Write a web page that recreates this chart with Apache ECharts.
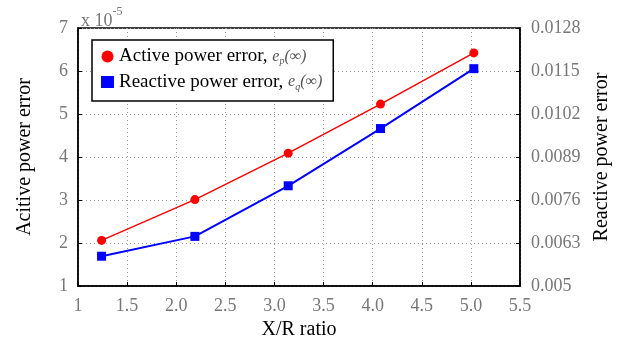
<!DOCTYPE html>
<html>
<head>
<meta charset="utf-8">
<script src="https://cdn.jsdelivr.net/npm/echarts@6/dist/echarts.min.js"></script>
<style>
  html, body { margin: 0; padding: 0; background: #fff; }
  #chart { width: 625px; height: 345px; }
</style>
</head>
<body>
<div id="chart"></div>
<script>
	// X/R ratio of each case
	var xrRatio = [1.24, 2.19, 3.14, 4.08, 5.03];
	// active power error, in units of 1e-5
	var activeErr = [2.06, 3.01, 4.09, 5.23, 6.42];
	// reactive power error
	var reactiveErr = [0.00590, 0.00650, 0.00803, 0.00976, 0.01157];
	var rightTicks = [0.005, 0.0063, 0.0076, 0.0089, 0.0102, 0.0115, 0.0128];

	var font = 'Liberation Serif';
	var myChart = echarts.init(document.getElementById('chart'));
	myChart.setOption({
		animation: false,
		textStyle: { fontFamily: font },
		title: {
			text: '{a|x 10}{b|-5}',
			left: 76,
			top: 1,
			textStyle: {
				fontWeight: 'normal',
				rich: {
					a: { fontFamily: font, fontSize: 18, color: '#777', verticalAlign: 'bottom', lineHeight: 24 },
					b: { fontFamily: font, fontSize: 12, color: '#777', verticalAlign: 'top', lineHeight: 24 }
				}
			}
		},
		grid: {
			left: 78, right: 105, top: 28, bottom: 58,
			show: true, borderColor: '#000', borderWidth: 1.5, backgroundColor: 'transparent'
		},
		legend: {
			orient: 'vertical',
			left: 92, top: 40,
			padding: [7, 11, 9, 9],
			itemGap: 6,
			itemWidth: 13, itemHeight: 12,
			itemTextGap: 8,
			borderColor: '#000', borderWidth: 1.5,
			backgroundColor: '#fff',
			data: [
				{ name: 'Active power error', icon: 'circle' },
				{ name: 'Reactive power error', icon: 'rect' }
			],
			formatter: function (name) {
				var s = name === 'Active power error' ? 'p' : 'q';
				return '{t|' + name + ', }{e|e}{s|' + s + '}{e|(∞)}';
			},
			textStyle: {
				rich: {
					t: { fontFamily: font, fontSize: 19, color: '#000', lineHeight: 20 },
					e: { fontFamily: font, fontSize: 16, fontStyle: 'italic', color: '#555', lineHeight: 20 },
					s: { fontFamily: font, fontSize: 10, fontStyle: 'italic', color: '#555', lineHeight: 20, verticalAlign: 'bottom' }
				}
			}
		},
		xAxis: {
			type: 'value',
			min: 1, max: 5.5, interval: 0.5,
			name: 'X/R ratio',
			nameLocation: 'middle',
			nameGap: 34,
			nameTextStyle: { fontFamily: font, fontSize: 20, color: '#000' },
			axisLine: { lineStyle: { color: '#000', width: 1.5 } },
			axisTick: { inside: true, length: 4, lineStyle: { color: '#000' } },
			axisLabel: {
				fontFamily: font, fontSize: 18, color: '#777', margin: 11,
				formatter: function (v) { return v === 1 ? '1' : v.toFixed(1); }
			},
			splitLine: { show: true, lineStyle: { color: '#999', type: [1, 3], width: 1 } }
		},
		yAxis: [{
			type: 'value',
			min: 1, max: 7, interval: 1,
			name: 'Acitive power error',
			nameLocation: 'middle',
			nameGap: 43,
			nameTextStyle: { fontFamily: font, fontSize: 20, color: '#000' },
			axisLine: { lineStyle: { color: '#000', width: 1.5 } },
			axisTick: { inside: true, length: 4, lineStyle: { color: '#000' } },
			axisLabel: { fontFamily: font, fontSize: 18, color: '#777', margin: 10 },
			splitLine: { show: true, lineStyle: { color: '#999', type: [1, 3], width: 1 } }
		}, {
			type: 'value',
			min: 0.005, max: 0.0128,
			position: 'right',
			name: 'Reactive power error',
			nameLocation: 'middle',
			nameGap: 69,
			nameRotate: 90,
			nameTextStyle: { fontFamily: font, fontSize: 20, color: '#000' },
			axisLine: { show: true, lineStyle: { color: '#000', width: 1.5 } },
			axisTick: { show: true, inside: true, length: 4, customValues: rightTicks, lineStyle: { color: '#000' } },
			axisLabel: { fontFamily: font, fontSize: 18, color: '#777', margin: 11, customValues: rightTicks },
			splitLine: { show: false }
		}],
		series: [{
			name: 'Active power error',
			type: 'line',
			yAxisIndex: 0,
			symbol: 'circle',
			symbolSize: 9,
			color: '#ff0000',
			lineStyle: { width: 1.5 },
			data: xrRatio.map(function (x, i) { return [x, activeErr[i]]; })
		}, {
			name: 'Reactive power error',
			type: 'line',
			yAxisIndex: 1,
			symbol: 'rect',
			symbolSize: 9,
			color: '#0000ff',
			lineStyle: { width: 2 },
			data: xrRatio.map(function (x, i) { return [x, reactiveErr[i]]; })
		}]
	});
</script>
</body>
</html>
